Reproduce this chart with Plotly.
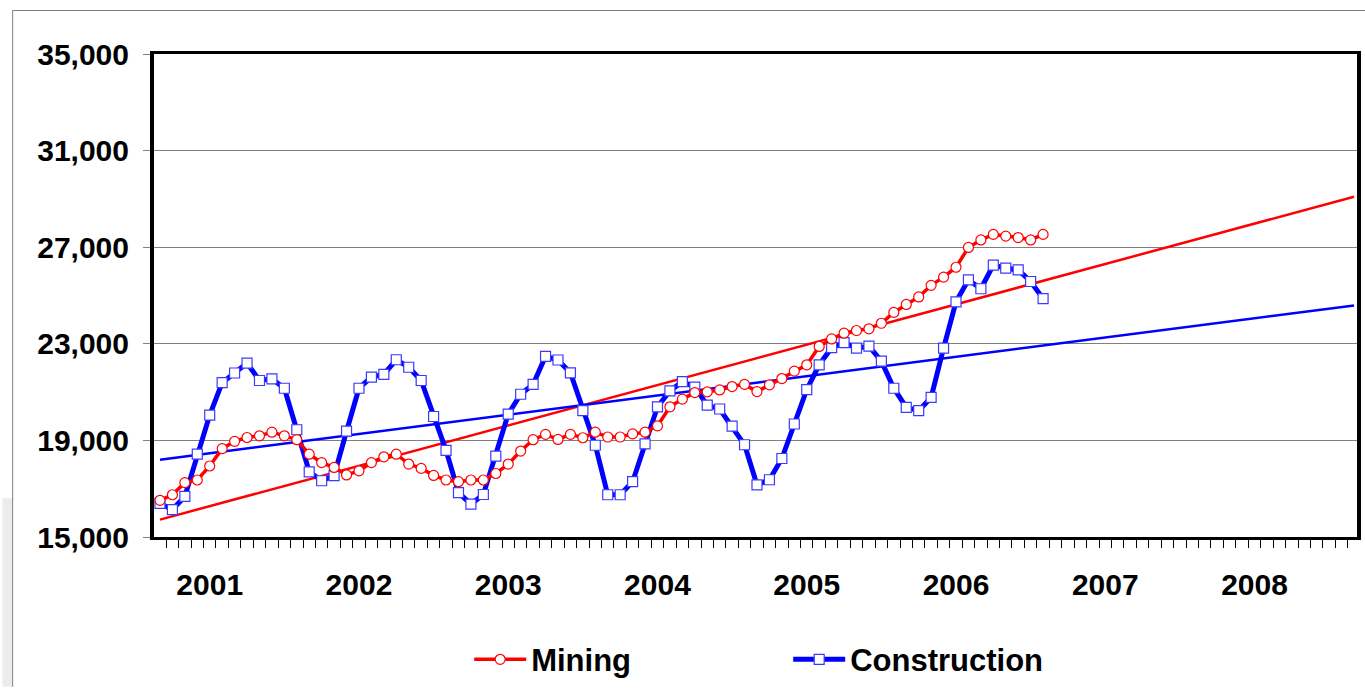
import plotly.graph_objects as go

# month index 0 = first month of 2001
months = list(range(72))
trend_x = [0, 96]

mining = [16520, 16750, 17250, 17360, 17940, 18660, 18960, 19120, 19190, 19340, 19190, 19030,
          18430, 18080, 17880, 17570, 17740, 18080, 18320, 18430, 18020, 17840, 17550, 17360,
          17290, 17360, 17360, 17630, 18020, 18560, 19030, 19250, 19040, 19250, 19110, 19340,
          19140, 19140, 19270, 19340, 19600, 20390, 20710, 20980, 21010, 21090, 21230, 21320,
          21020, 21300, 21560, 21870, 22130, 22890, 23200, 23440, 23550, 23620, 23850, 24300,
          24630, 24940, 25420, 25760, 26170, 26990, 27300, 27530, 27460, 27400, 27300, 27530]

construction = [16390, 16135, 16680, 18430, 20050, 21390, 21790, 22200, 21480, 21550, 21160, 19440,
                17700, 17330, 17540, 19380, 21160, 21620, 21730, 22340, 22030, 21480, 19990, 18590,
                16840, 16360, 16760, 18350, 20090, 20910, 21320, 22480, 22330, 21800, 20230, 18800,
                16750, 16750, 17290, 18860, 20390, 21050, 21430, 21210, 20460, 20300, 19590, 18820,
                17160, 17370, 18250, 19680, 21100, 22130, 22840, 23050, 22820, 22900, 22280, 21160,
                20370, 20230, 20780, 22820, 24740, 25650, 25280, 26260, 26130, 26060, 25580, 24870]

mining_trend = [15720, 29090]
construction_trend = [18200, 24590]

year_pos = [4, 16, 28, 40, 52, 64, 76, 88]
year_labels = ["2001", "2002", "2003", "2004", "2005", "2006", "2007", "2008"]
y_ticks = [15000, 19000, 23000, 27000, 31000, 35000]

RED = "#FF0000"
BLUE = "#0000FF"
FONT = "Liberation Sans, Arial, sans-serif"

fig = go.Figure()
fig.add_trace(go.Scatter(x=trend_x, y=mining_trend, mode="lines",
                         line=dict(color=RED, width=2.5), showlegend=False, hoverinfo="skip"))
fig.add_trace(go.Scatter(x=trend_x, y=construction_trend, mode="lines",
                         line=dict(color=BLUE, width=2.5), showlegend=False, hoverinfo="skip"))
fig.add_trace(go.Scatter(x=months, y=construction, mode="lines+markers", name="Construction",
                         line=dict(color=BLUE, width=5),
                         marker=dict(symbol="square", size=10, color="white",
                                     line=dict(color="#3a3aff", width=1.2)),
                         legendrank=2))
fig.add_trace(go.Scatter(x=months, y=mining, mode="lines+markers", name="Mining",
                         line=dict(color=RED, width=3.5),
                         marker=dict(symbol="circle", size=10, color="white",
                                     line=dict(color=RED, width=1.2)),
                         legendrank=1))

fig.update_layout(
    width=1365, height=691,
    margin=dict(l=154, r=4, t=54, b=146),
    paper_bgcolor="white", plot_bgcolor="white",
    font=dict(family=FONT, size=30, color="black"),
    showlegend=True,
    legend=dict(orientation="h", x=0.262, y=-0.254, xanchor="left", yanchor="middle",
                font=dict(family=FONT, size=31, color="black", weight="bold"),
                entrywidth=252, entrywidthmode="pixels", itemwidth=52,
                bgcolor="rgba(0,0,0,0)"),
    xaxis=dict(range=[-0.48, 96.24], tickmode="array", tickvals=year_pos, ticktext=year_labels,
               ticks="", showgrid=False, zeroline=False,
               showline=True, linecolor="black", linewidth=3, mirror=True,
               tickfont=dict(family=FONT, size=30, color="black", weight="bold"),
               ticklabelstandoff=19,
               minor=dict(tick0=-0.5, dtick=1, ticks="outside", ticklen=8,
                          tickcolor="black", tickwidth=1, showgrid=False)),
    yaxis=dict(range=[15000, 35000], tickmode="array", tickvals=y_ticks, tickformat=",",
               ticks="outside", ticklen=7, tickcolor="#808080", tickwidth=1,
               showgrid=True, gridcolor="#808080", gridwidth=1, zeroline=False,
               showline=True, linecolor="black", linewidth=4, mirror=True,
               tickfont=dict(family=FONT, size=30, color="black", weight="bold"),
               ticklabelstandoff=8),
    shapes=[
        dict(type="rect", xref="paper", yref="paper", x0=-0.126, x1=-0.1175, y0=0.08, y1=-0.31,
             fillcolor="#ececec", line=dict(width=0), layer="below"),
        dict(type="line", xref="paper", yref="paper", x0=-0.1175, x1=-0.1175, y0=1.09, y1=-0.31,
             line=dict(color="#7f7f7f", width=1)),
        dict(type="line", xref="paper", yref="paper", x0=-0.1175, x1=1.01, y0=1.09, y1=1.09,
             line=dict(color="#7f7f7f", width=1)),
    ],
)

fig.write_html("out.html", config={"displayModeBar": False},
               post_script="document.body.style.margin='0';document.body.style.overflow='hidden';")
